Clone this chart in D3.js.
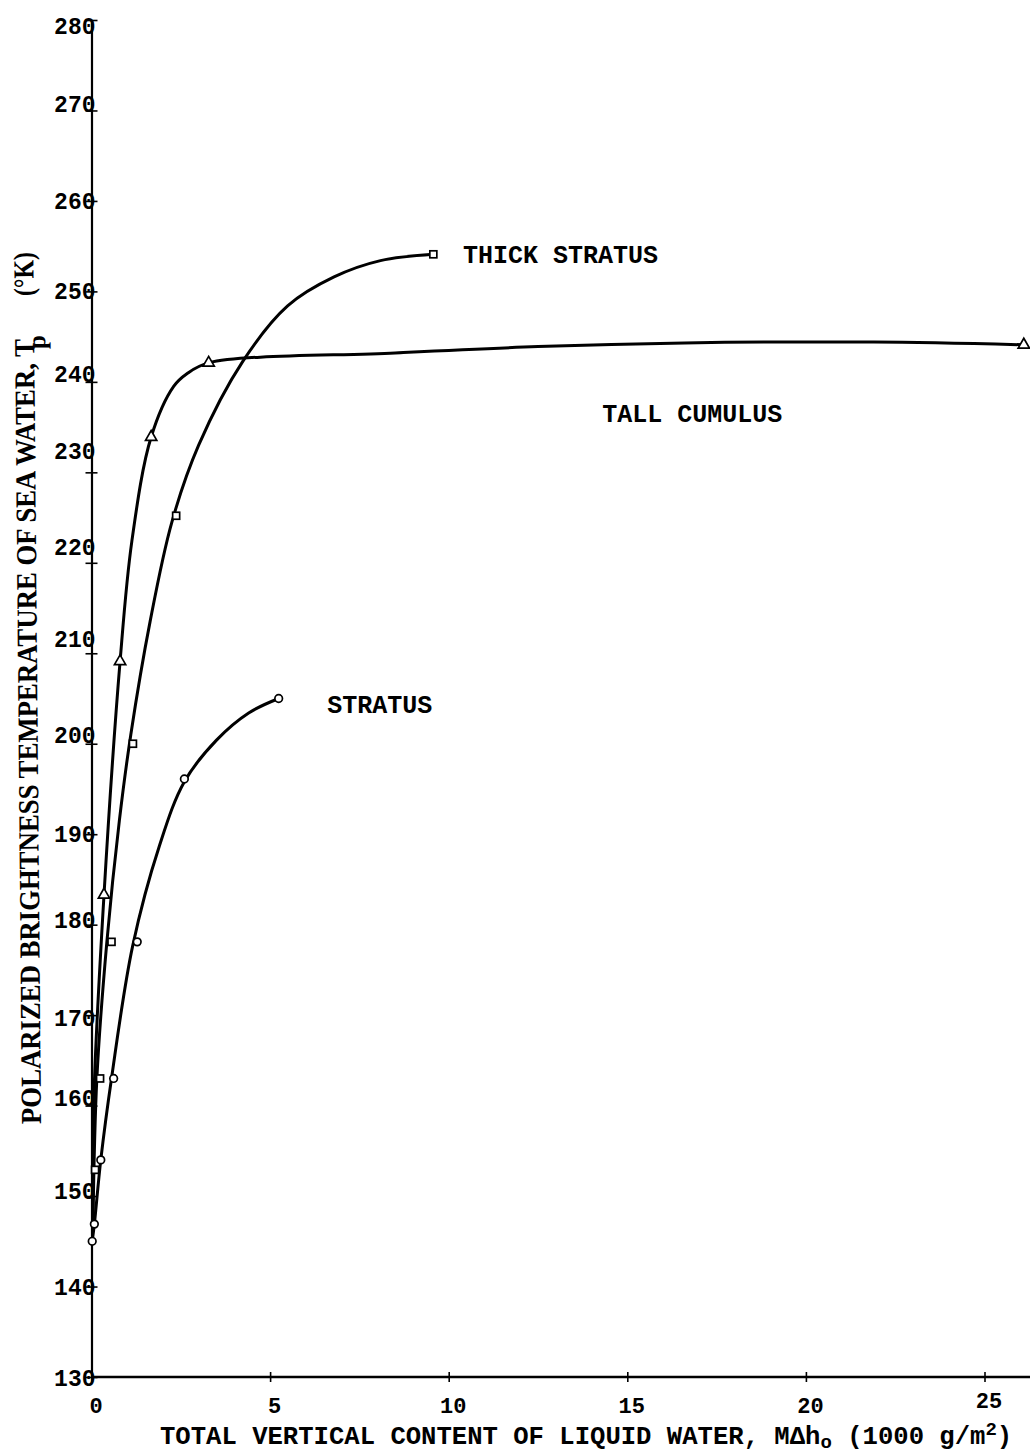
<!DOCTYPE html>
<html>
<head>
<meta charset="utf-8">
<script src="https://cdn.jsdelivr.net/npm/d3@7"></script>
<style>
  html, body { margin: 0; padding: 0; background: #fff; }
  svg { display: block; }
</style>
</head>
<body>
<svg id="chart" width="1030" height="1456"></svg>
<script>
// ---- tick values ----
const xTicks = [0, 5, 10, 15, 20, 25];
const yTicks = [130, 140, 150, 160, 170, 180, 190, 200, 210, 220, 230, 240, 250, 260, 270, 280];

// ---- plotted observations [liquid water (1000 g/m^2), Tp (K)] ----
const stratusPoints = [[0.02, 145.0], [0.08, 146.9], [0.26, 154.0], [0.62, 163.0], [1.28, 178.1], [2.6, 196.1], [5.24, 205.0]];
const thickStratusPoints = [[0.1, 152.9], [0.24, 163.0], [0.56, 178.1], [1.16, 200.0], [2.37, 225.2], [9.57, 254.1]];
const tallCumulusPoints = [[0.35, 183.3], [0.8, 209.1], [1.67, 233.9], [3.28, 242.1], [26.1, 244.1]];

// ---- hand-faired curves ----
const stratusCurve = [[0.02, 145.0], [0.08, 146.9], [0.26, 154.0], [0.56, 163.0], [1.15, 177.6], [1.9, 188.7],
  [2.6, 195.8], [3.5, 200.4], [4.4, 203.4], [5.24, 205.0]];
const thickStratusCurve = [[0.04, 146.9], [0.15, 163.0], [0.43, 178.1], [0.78, 191.5], [1.1, 201.0],
  [1.64, 213.5], [2.25, 224.5], [3.0, 233.0], [4.24, 242.3], [5.49, 248.4], [6.79, 251.6], [8.09, 253.4], [9.57, 254.1]];
const tallCumulusCurve = [[0.04, 146.9], [0.07, 161.2], [0.35, 183.3], [0.8, 209.1], [1.13, 222.4], [1.67, 233.9],
  [2.3, 239.5], [2.67, 240.9], [3.28, 242.1], [8.5, 243.2], [12.5, 243.9], [16.6, 244.3], [21.9, 244.4], [26.1, 244.1]];

// ---- curve labels ----
const curveLabels = [
  { text: "THICK STRATUS", x: 10.4, y: 253.1 },
  { text: "TALL CUMULUS", x: 14.3, y: 235.6 },
  { text: "STRATUS", x: 6.6, y: 203.4 }
];

const W = 1030, H = 1456;
const MONO = "'Liberation Mono', 'DejaVu Sans Mono', monospace";
const SERIF = "'Liberation Serif', 'DejaVu Serif', serif";

const svg = d3.select("#chart");
svg.append("rect").attr("width", W).attr("height", H).attr("fill", "#fff");

const x = d3.scaleLinear().domain([0, 25]).range([91.5, 984.5]);
const y = d3.scaleLinear().domain([130, 280]).range([1377, 20]);

// typed tick labels sit a little off their ticks (vertical nudge in px)
const yLabelNudge = { 280: 5, 270: -7, 260: -1, 250: -1, 240: -9, 230: -22, 220: -17, 210: -15,
  200: -10, 190: -1, 180: -5, 170: 2, 160: -8, 150: -6, 140: 0, 130: 0 };

// ---- x axis ----
const gx = svg.append("g")
  .attr("transform", `translate(0,${y(130)})`)
  .call(d3.axisBottom(x).tickValues(xTicks).tickSize(5).tickSizeOuter(0).tickFormat(d3.format("d")));
gx.select(".domain")
  .attr("d", `M${x(0)},0H${x(x.invert(W))}`)
  .attr("stroke", "#000").attr("stroke-width", 2.6);
gx.selectAll(".tick line").attr("y1", -5).attr("y2", 5).attr("stroke", "#000").attr("stroke-width", 1.6);
gx.selectAll(".tick text")
  .attr("y", d => d === 25 ? 31 : 36).attr("dy", 0).attr("dx", 4)
  .attr("font-family", MONO).attr("font-weight", "bold").attr("font-size", 22).attr("fill", "#000");

// ---- y axis ----
const gy = svg.append("g")
  .attr("transform", `translate(${x(0)},0)`)
  .call(d3.axisLeft(y).tickValues(yTicks).tickSize(6).tickSizeOuter(0).tickFormat(d3.format("d")));
gy.select(".domain").attr("stroke", "#000").attr("stroke-width", 2.2);
gy.selectAll(".tick line").attr("x1", -6).attr("x2", 6).attr("stroke", "#000").attr("stroke-width", 1.6);
gy.selectAll(".tick text")
  .attr("x", 4).attr("y", d => yLabelNudge[d] || 0).attr("dy", "0.36em").attr("text-anchor", "end")
  .attr("font-family", MONO).attr("font-weight", "bold").attr("font-size", 23).attr("fill", "#000");

// ---- curves ----
const line = d3.line()
  .x(d => x(d[0]))
  .y(d => y(d[1]))
  .curve(d3.curveCatmullRom.alpha(0.5));

const plot = svg.append("g");
[stratusCurve, thickStratusCurve, tallCumulusCurve].forEach(c => {
  plot.append("path")
    .attr("d", line(c))
    .attr("fill", "none")
    .attr("stroke", "#000")
    .attr("stroke-width", 3)
    .attr("stroke-linejoin", "round")
    .attr("stroke-linecap", "round");
});

// ---- markers ----
const markers = svg.append("g").attr("fill", "#fff").attr("stroke", "#000").attr("stroke-width", 1.7);
markers.selectAll("circle.stratus").data(stratusPoints).join("circle")
  .attr("class", "stratus")
  .attr("cx", d => x(d[0])).attr("cy", d => y(d[1])).attr("r", 3.8);
markers.selectAll("rect.thick").data(thickStratusPoints).join("rect")
  .attr("class", "thick")
  .attr("x", d => x(d[0]) - 3.5).attr("y", d => y(d[1]) - 3.5)
  .attr("width", 7).attr("height", 7);
const tri = d3.symbol().type(d3.symbolTriangle).size(55);
markers.selectAll("path.tall").data(tallCumulusPoints).join("path")
  .attr("class", "tall")
  .attr("d", tri)
  .attr("transform", d => `translate(${x(d[0])},${y(d[1])})`);

// ---- curve labels ----
svg.append("g").selectAll("text").data(curveLabels).join("text")
  .attr("x", d => x(d.x)).attr("y", d => y(d.y))
  .attr("font-family", MONO).attr("font-weight", "bold").attr("font-size", 25)
  .attr("fill", "#000")
  .text(d => d.text);

// ---- x axis title ----
const xt = svg.append("text")
  .attr("x", 160).attr("y", 1444)
  .attr("font-family", MONO).attr("font-weight", "bold").attr("font-size", 25.6)
  .attr("fill", "#000");
xt.append("tspan").text("TOTAL VERTICAL CONTENT OF LIQUID WATER, M\u0394h");
xt.append("tspan").attr("dy", 4).attr("font-size", 19).text("o");
xt.append("tspan").attr("dy", -4).text(" (1000 g/m");
xt.append("tspan").attr("dy", -9).attr("font-size", 19).text("2");
xt.append("tspan").attr("dy", 9).text(")");

// ---- y axis title (rotated) ----
const yt = svg.append("g").attr("transform", "translate(41,1124) rotate(-90.5)");
yt.append("text")
  .attr("x", 0).attr("y", 0)
  .attr("textLength", 785).attr("lengthAdjust", "spacingAndGlyphs")
  .attr("font-family", SERIF).attr("font-weight", "bold").attr("font-size", 29)
  .attr("fill", "#000")
  .text("POLARIZED BRIGHTNESS TEMPERATURE OF SEA WATER, T");
yt.append("text")
  .attr("x", 775).attr("y", 11)
  .attr("font-family", SERIF).attr("font-weight", "bold").attr("font-size", 25)
  .attr("fill", "#000")
  .text("p");
yt.append("text")
  .attr("x", 828).attr("y", 0)
  .attr("textLength", 44).attr("lengthAdjust", "spacingAndGlyphs")
  .attr("font-family", SERIF).attr("font-weight", "bold").attr("font-size", 29)
  .attr("fill", "#000")
  .text("(\u00B0K)");
</script>
</body>
</html>
